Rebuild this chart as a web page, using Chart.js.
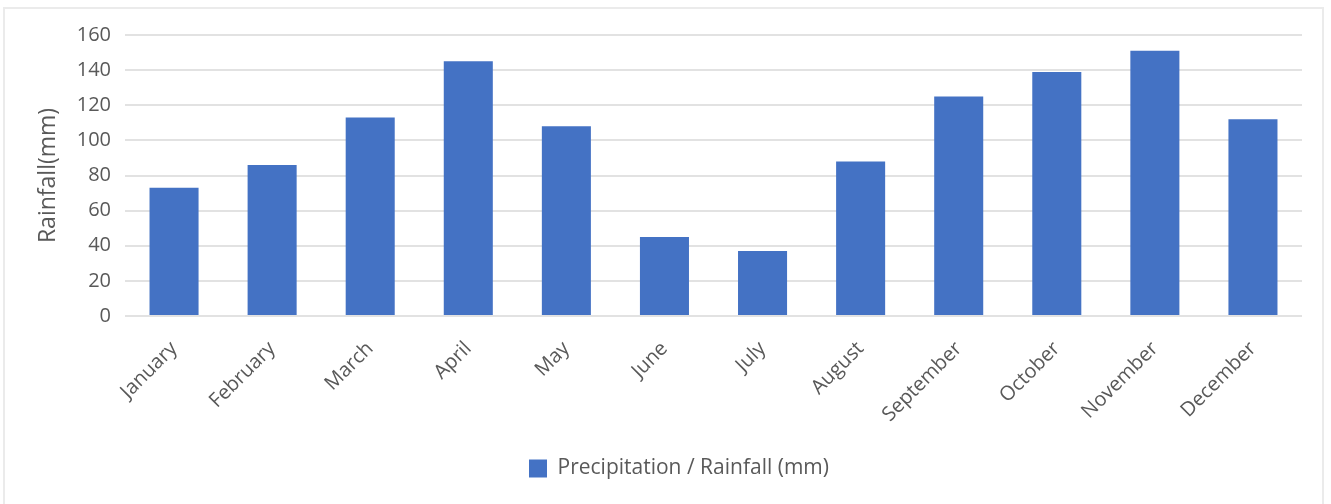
<!DOCTYPE html>
<html>
<head>
<meta charset="utf-8">
<script src="https://cdn.jsdelivr.net/npm/chart.js@4/dist/chart.umd.min.js"></script>
<style>
  html, body { margin: 0; padding: 0; background: #ffffff; }
  #wrap { position: relative; width: 1331px; height: 504px; overflow: hidden; }
  #frame { position: absolute; left: 3px; top: 7px; width: 1321px; height: 520px;
           border: 2px solid #ebebeb; box-sizing: border-box; }
  canvas { position: absolute; left: 0; top: 0; }
</style>
</head>
<body>
<div id="wrap">
  <div id="frame"></div>
  <canvas id="chart" width="1331" height="504"></canvas>
</div>
<script>
// Monthly rainfall (mm)
const months = ['January', 'February', 'March', 'April', 'May', 'June',
                'July', 'August', 'September', 'October', 'November', 'December'];
const rainfall = [73, 86, 113, 145, 108, 45, 37, 88, 125, 139, 151, 112];
const seriesLabel = 'Precipitation / Rainfall (mm)';
const axisTitle = 'Rainfall(mm)';
const yMin = 0, yMax = 160, yStep = 20;

const textColor = '#595959';
const fontFamily = '"Open Sans", "Liberation Sans", sans-serif';

// nudges the bottom legend to the right of the canvas centre
const legendShift = {
  id: 'legendShift',
  afterLayout(chart) {
    const lg = chart.legend;
    if (lg) { lg.left += 13; lg.right += 13; lg.top += 1; lg.bottom += 1; }
  }
};

new Chart(document.getElementById('chart'), {
  type: 'bar',
  data: {
    labels: months,
    datasets: [{
      label: seriesLabel,
      data: rainfall,
      backgroundColor: '#4472C4',
      borderWidth: 0,
      barPercentage: 0.5,
      categoryPercentage: 1.0
    }]
  },
  options: {
    responsive: false,
    animation: false,
    devicePixelRatio: 1,
    layout: { padding: { left: 30, right: 29, top: 35, bottom: 16 } },
    plugins: {
      tooltip: { enabled: false },
      legend: {
        position: 'bottom',
        labels: {
          boxWidth: 18,
          boxHeight: 18,
          padding: 10,
          color: textColor,
          font: { family: fontFamily, size: 21 }
        }
      }
    },
    scales: {
      x: {
        grid: { display: false, drawTicks: false },
        border: { display: false },
        ticks: {
          autoSkip: false,
          maxRotation: 45,
          minRotation: 45,
          padding: 21,
          color: textColor,
          font: { family: fontFamily, size: 20 }
        },
        afterFit(scale) { scale.height = 131; }
      },
      y: {
        min: yMin,
        max: yMax,
        grid: { color: '#e2e2e2', lineWidth: 2, drawTicks: false },
        border: { display: false },
        ticks: {
          stepSize: yStep,
          padding: 14,
          color: textColor,
          font: { family: fontFamily, size: 20 }
        },
        title: {
          display: true,
          text: axisTitle,
          color: textColor,
          padding: { top: 5, bottom: 0 },
          font: { family: fontFamily, size: 23 }
        },
        afterFit(scale) { scale.width = 95; }
      }
    }
  },
  plugins: [legendShift]
});
</script>
</body>
</html>
